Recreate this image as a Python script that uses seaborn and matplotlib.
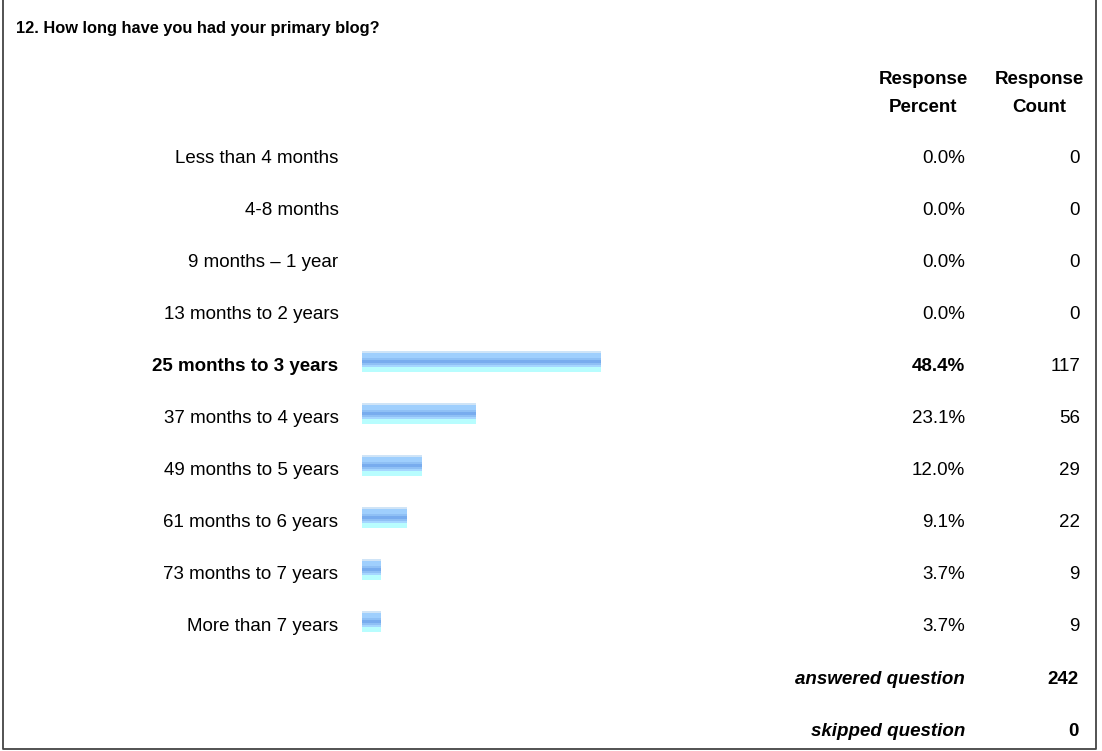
import numpy as np
import pandas as pd
import seaborn as sns
import matplotlib
matplotlib.use("Agg")
import matplotlib.pyplot as plt
import matplotlib.transforms as mtransforms
from matplotlib.colors import to_rgb

# Survey data
question = "12. How long have you had your primary blog?"
answers = ["Less than 4 months", "4-8 months", "9 months \u2013 1 year",
           "13 months to 2 years", "25 months to 3 years", "37 months to 4 years",
           "49 months to 5 years", "61 months to 6 years", "73 months to 7 years",
           "More than 7 years"]
percents = [0.0, 0.0, 0.0, 0.0, 48.4, 23.1, 12.0, 9.1, 3.7, 3.7]
counts = [0, 0, 0, 0, 117, 56, 29, 22, 9, 9]
answered = 242
skipped = 0

sns.set_theme(style="white")
plt.rcParams["font.family"] = ["Liberation Sans", "DejaVu Sans"]
plt.rcParams["text.color"] = "black"

W, H = 1102, 751
fig = plt.figure(figsize=(W / 100, H / 100), dpi=100)

# background axes in pixel coordinates for the frame and free text
bg = fig.add_axes([0, 0, 1, 1])
bg.set_xlim(0, W)
bg.set_ylim(H, 0)
bg.axis("off")
bg.plot([3, 3, 1096, 1096], [0, 749, 749, 0], color="#444444", lw=1.3,
        solid_capstyle="butt", clip_on=False)

FS = 13.5
VA = "center_baseline"
bg.text(16, 27, question, fontsize=11.8, fontweight="bold", ha="left", va=VA)
for x, (l1, l2) in [(923, ("Response", "Percent")), (1039, ("Response", "Count"))]:
    bg.text(x, 78, l1, fontsize=FS, fontweight="bold", ha="center", va=VA)
    bg.text(x, 105, l2, fontsize=FS, fontweight="bold", ha="center", va=VA)

# bar axes: rows 52 px apart, first row centred at 157 px
ax = fig.add_axes([362 / W, 1 - 651 / H, 492 / W, 520 / H])
df = pd.DataFrame({"answer": answers, "percent": percents})
sns.barplot(data=df, x="percent", y="answer", orient="h", width=0.4,
            color="#99ccff", ax=ax)
ax.set_xlim(0, 100)
ax.set_ylim(len(answers) - 0.5, -0.5)
ax.set_xlabel("")
ax.set_ylabel("")
ax.set_xticks([])
for s in ax.spines.values():
    s.set_visible(False)
ax.tick_params(axis="y", length=0, pad=17, labelsize=FS, labelcolor="black")

imax = int(np.argmax(percents))
for i, lab in enumerate(ax.get_yticklabels()):
    if i == imax:
        lab.set_fontweight("bold")

# vertical gradient fill for the bars (sits a few px above the text centre)
stripes = ["#cfe4f7"] * 2 + ["#9fcffd"] * 5 + ["#8fc0f5"] * 2 + ["#78acee"] * 3 + \
          ["#8fc0f5"] * 2 + ["#a5d6ff"] * 2 + ["#b8fdfe"] * 5
grad = np.array([to_rgb(c) for c in stripes])[:, None, :]
lift = 0.06
for p in list(ax.patches):
    x0, y0, w, h = p.get_x(), p.get_y(), p.get_width(), p.get_height()
    p.set_visible(False)
    if w <= 0:
        continue
    ax.imshow(grad, extent=(x0, x0 + w, y0 + h - lift, y0 - lift), aspect="auto",
              interpolation="nearest", zorder=3)
ax.set_xlim(0, 100)
ax.set_ylim(len(answers) - 0.5, -0.5)

# percent and count columns share the bar rows
tr = mtransforms.blended_transform_factory(bg.transData, ax.transData)
for i, (pc, c) in enumerate(zip(percents, counts)):
    wt = "bold" if i == imax else "normal"
    ax.text(965, i, f"{pc:.1f}%", transform=tr, fontsize=FS, fontweight=wt,
            ha="right", va=VA, clip_on=False)
    ax.text(1080, i, f"{c}", transform=tr, fontsize=FS,
            ha="right", va=VA, clip_on=False)

bg.text(965, 678, "answered question", fontsize=FS, fontweight="bold",
        fontstyle="italic", ha="right", va=VA)
bg.text(1079, 678, f"{answered}", fontsize=FS, fontweight="bold", ha="right", va=VA)
bg.text(965, 730, "skipped question", fontsize=FS, fontweight="bold",
        fontstyle="italic", ha="right", va=VA)
bg.text(1079, 730, f"{skipped}", fontsize=FS, fontweight="bold", ha="right", va=VA)

fig.savefig("out.png", dpi=100)
